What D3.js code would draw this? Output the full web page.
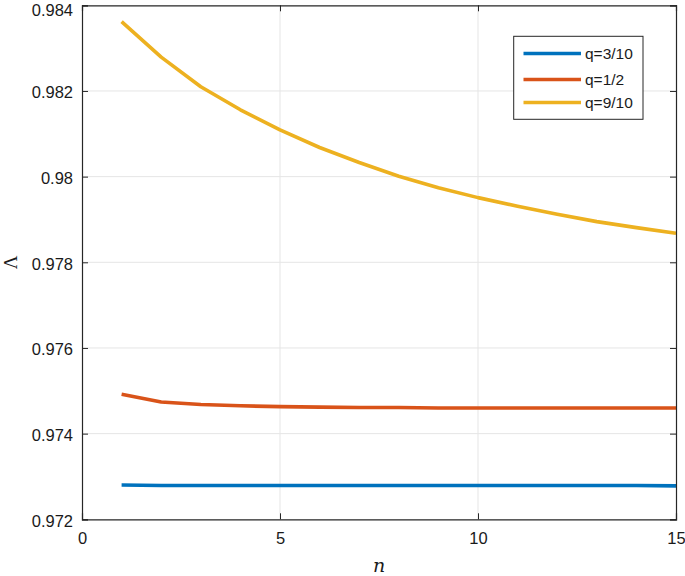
<!DOCTYPE html>
<html>
<head>
<meta charset="utf-8">
<script src="https://cdn.jsdelivr.net/npm/d3@7"></script>
<style>
  html, body { margin: 0; padding: 0; background: #fff; }
  svg { display: block; }
</style>
</head>
<body>
<script>
const nValues = [1,2,3,4,5,6,7,8,9,10,11,12,13,14,15];
const seriesNames = ["q=3/10", "q=1/2", "q=9/10"];
const q3_10 = [0.97280,0.97279,0.97279,0.97279,0.97279,0.97279,0.97279,0.97279,0.97279,0.97279,0.97279,0.97279,0.97279,0.97279,0.97278];
const q1_2  = [0.97492,0.97474,0.97468,0.97465,0.97463,0.97462,0.97461,0.97461,0.97460,0.97460,0.97460,0.97460,0.97460,0.97460,0.97460];
const q9_10 = [0.98362,0.98279,0.98210,0.98156,0.98109,0.98068,0.98033,0.98001,0.97974,0.97951,0.97931,0.97912,0.97895,0.97881,0.97868];
const xTicks = [0,5,10,15];
const yTicks = [0.972,0.974,0.976,0.978,0.98,0.982,0.984];
const colors = ["#0072BD","#D95319","#EDB120"];

const W = 685, H = 576;
const margin = {left: 82, right: 9, top: 5.3, bottom: 56.7};
const svg = d3.select("body").append("svg").attr("width", W).attr("height", H);

const x = d3.scaleLinear().domain([0,15]).range([margin.left, W - margin.right]);
const y = d3.scaleLinear().domain([0.972,0.984]).range([H - margin.bottom, margin.top]);

const font = "'Liberation Sans', Arial, Helvetica, sans-serif";
const axisColor = "#262626";

// grid
svg.append("g").selectAll("line.gx").data(xTicks.slice(1, -1)).join("line")
  .attr("x1", d => x(d)).attr("x2", d => x(d))
  .attr("y1", y.range()[0]).attr("y2", y.range()[1])
  .attr("stroke", "#e5e5e5").attr("stroke-width", 1);
svg.append("g").selectAll("line.gy").data(yTicks.slice(1, -1)).join("line")
  .attr("y1", d => y(d)).attr("y2", d => y(d))
  .attr("x1", x.range()[0]).attr("x2", x.range()[1])
  .attr("stroke", "#e5e5e5").attr("stroke-width", 1);

// lines
const seriesData = [q3_10, q1_2, q9_10];
const line = d3.line().x((d, i) => x(nValues[i])).y(d => y(d)).curve(d3.curveLinear);
seriesData.forEach((s, k) => {
  svg.append("path").datum(s).attr("d", line)
    .attr("fill", "none").attr("stroke", colors[k]).attr("stroke-width", 3.6)
    .attr("stroke-linejoin", "round");
});

// axes (MATLAB style: ticks inward, box)
const tickLen = 6;
const bottomAxis = d3.axisBottom(x).tickValues(xTicks).tickSize(-tickLen).tickPadding(13).tickFormat(d3.format("d"));
const leftAxis = d3.axisLeft(y).tickValues(yTicks).tickSize(-tickLen).tickPadding(9).tickFormat(d => d3.format("")(+d.toFixed(3)));
const topAxis = d3.axisTop(x).tickValues(xTicks).tickSize(-tickLen).tickFormat("");
const rightAxis = d3.axisRight(y).tickValues(yTicks).tickSize(-tickLen).tickFormat("");

function styleAxis(g) {
  g.select(".domain").attr("stroke", axisColor).attr("stroke-width", 1.2);
  g.selectAll(".tick line").attr("stroke", axisColor).attr("stroke-width", 1);
  g.selectAll(".tick text").attr("fill", "#1a1a1a").style("font-family", font).style("font-size", "16.5px");
}
svg.append("g").attr("transform", `translate(0,${y.range()[0]})`).call(bottomAxis).call(styleAxis);
const gLeft = svg.append("g").attr("transform", `translate(${x.range()[0]},0)`).call(leftAxis).call(styleAxis);
gLeft.selectAll(".tick text").attr("dy", d => d === 0.984 ? "0.62em" : "0.42em");
svg.append("g").attr("transform", `translate(0,${y.range()[1]})`).call(topAxis).call(styleAxis);
svg.append("g").attr("transform", `translate(${x.range()[1]},0)`).call(rightAxis).call(styleAxis);

// axis labels
svg.append("text").attr("x", (x.range()[0] + x.range()[1]) / 2).attr("y", 572)
  .attr("text-anchor", "middle").style("font-family", "'DejaVu Serif', 'Liberation Serif', serif")
  .style("font-style", "italic").style("font-size", "19px").attr("fill", "#1a1a1a").text("n");
svg.append("text").attr("transform", `translate(17,${(y.range()[0] + y.range()[1]) / 2}) rotate(-90)`)
  .attr("text-anchor", "middle").style("font-family", "'Liberation Serif', serif")
  .style("font-size", "19px").attr("fill", "#1a1a1a").text("Λ");

// legend
const lg = svg.append("g");
lg.append("rect").attr("x", 513.7).attr("y", 36.3).attr("width", 129.3).attr("height", 83)
  .attr("fill", "#fff").attr("stroke", axisColor).attr("stroke-width", 1);
const rowY = [53.5, 79.5, 102.5];
seriesNames.forEach((name, k) => {
  lg.append("line").attr("x1", 523.5).attr("x2", 581).attr("y1", rowY[k]).attr("y2", rowY[k])
    .attr("stroke", colors[k]).attr("stroke-width", 3.6);
  lg.append("text").attr("x", 585).attr("y", rowY[k]).attr("dy", "0.36em")
    .style("font-family", font).style("font-size", "15.5px").attr("fill", "#1a1a1a").text(name);
});
</script>
</body>
</html>
